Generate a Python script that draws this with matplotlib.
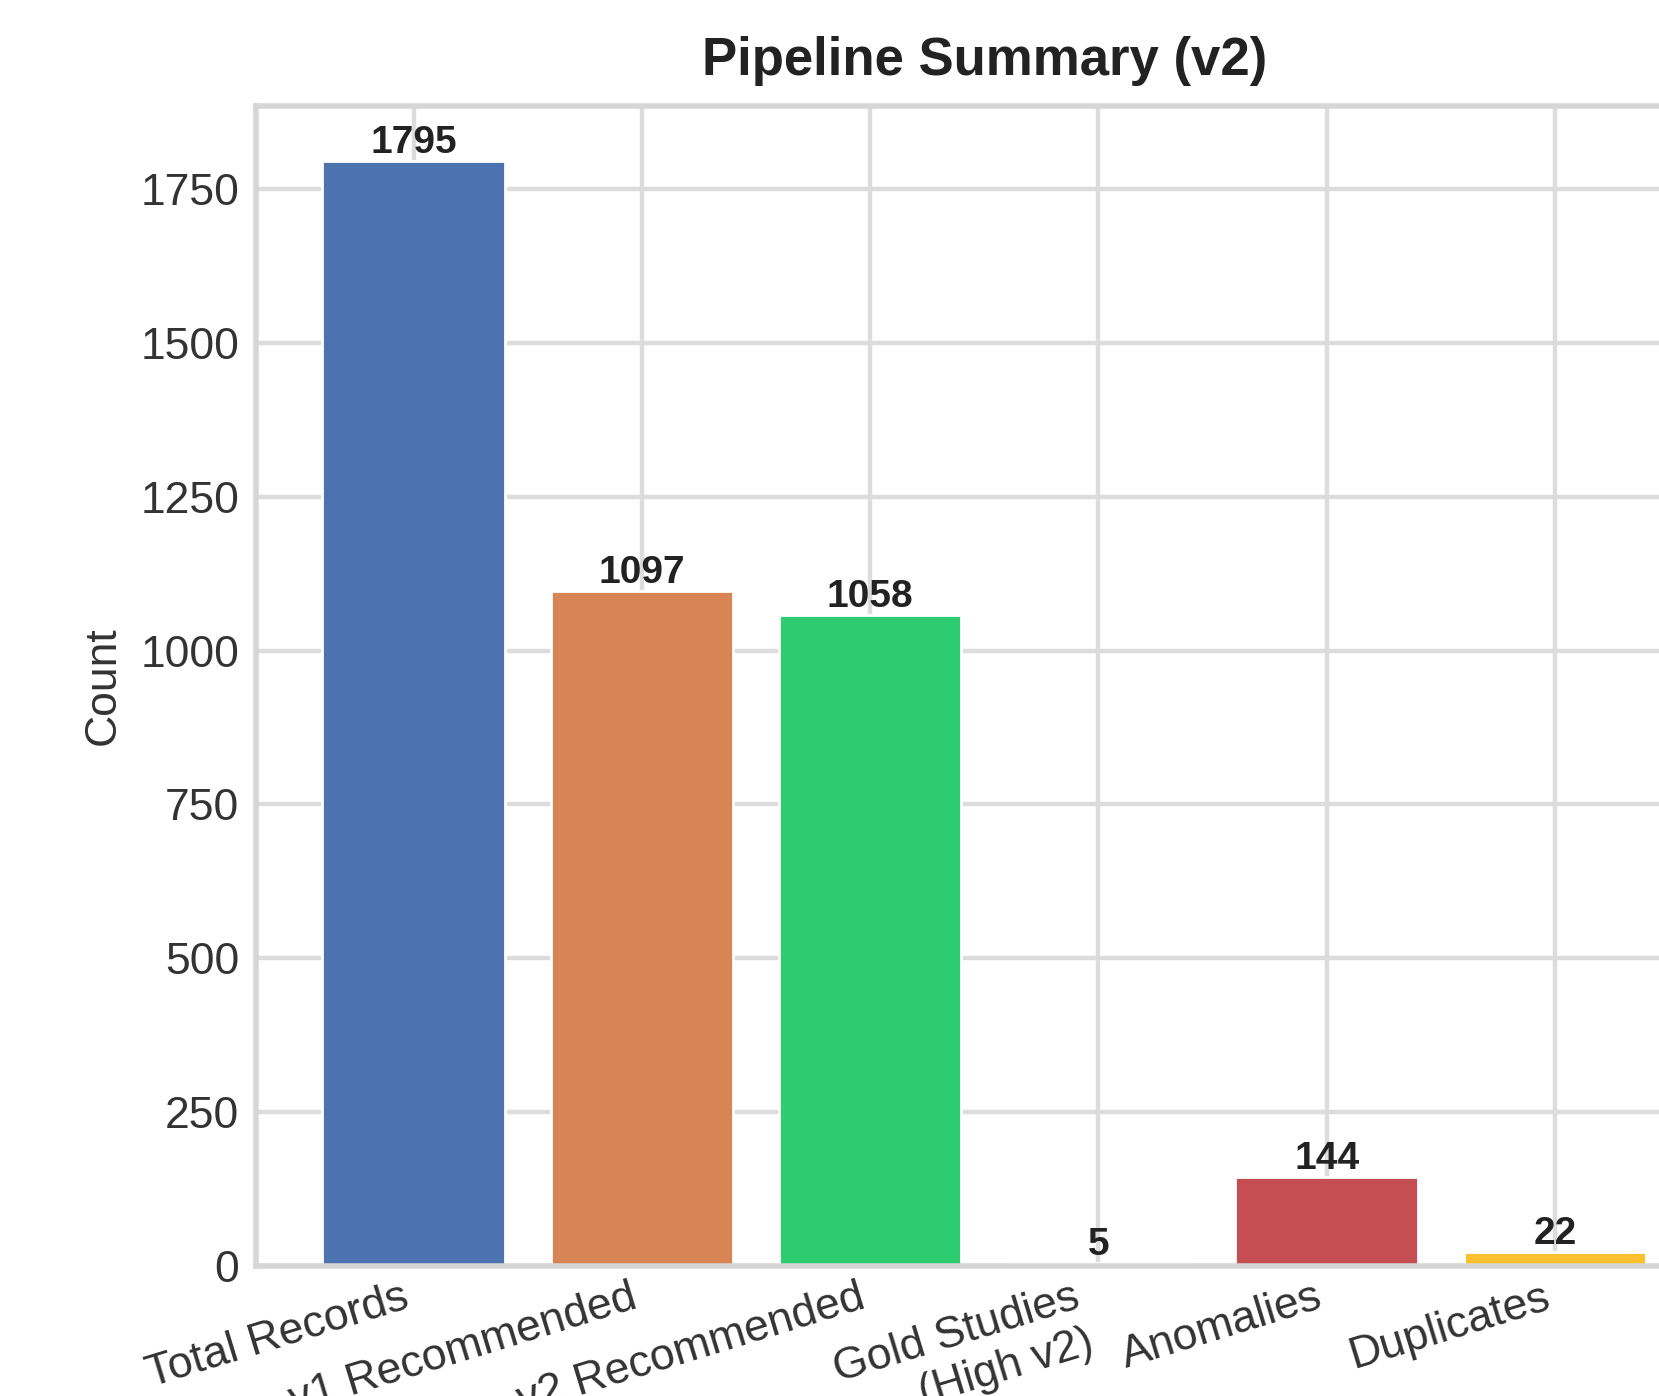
import numpy as np
import matplotlib
matplotlib.use("Agg")
import matplotlib.pyplot as plt

# data
categories = ["Total Records", "v1 Recommended", "v2 Recommended",
              "Gold Studies\n(High v2)", "Anomalies", "Duplicates"]
counts = [1795, 1097, 1058, 5, 144, 22]
bar_colors = ["#4C72B0", "#D98455", "#2ECC71", "#FFD700", "#C44E52", "#FBC02D"]
y_ticks = [0, 250, 500, 750, 1000, 1250, 1500, 1750]

plt.style.use("seaborn-v0_8-whitegrid")
plt.rcParams["font.family"] = ["Liberation Sans", "DejaVu Sans"]

fig = plt.figure(figsize=(16.59, 13.96), dpi=100)
# the reference is a crop: the axes run past the right edge
ax = fig.add_axes([0.1543, 0.0931, 0.878, 0.831])

x = np.arange(len(categories))
bars = ax.bar(x, counts, color=bar_colors, edgecolor="white", linewidth=2, zorder=2)

for b, v in zip(bars, counts):
    ax.text(b.get_x() + b.get_width() / 2, b.get_height(), str(v),
            ha="center", va="bottom", fontsize=28, fontweight="bold", color="#222222")

ax.set_xticks(x)
ax.set_xticklabels(categories, rotation=17, ha="right", fontsize=32, color="#333333")
ax.set_yticks(y_ticks)
ax.tick_params(axis="y", labelsize=32, labelcolor="#333333", length=0, pad=12)
ax.tick_params(axis="x", length=0, pad=8)
ax.set_ylabel("Count", fontsize=32, color="#333333", labelpad=12)
ax.set_title("Pipeline Summary (v2)", fontsize=38, fontweight="bold", pad=22, color="#222222")

ax.grid(True, color="#dcdcdc", linewidth=3.2)
ax.set_axisbelow(True)
for s in ax.spines.values():
    s.set_color("#d6d6d6")
    s.set_linewidth(4)

fig.savefig("out.png", dpi=100)
